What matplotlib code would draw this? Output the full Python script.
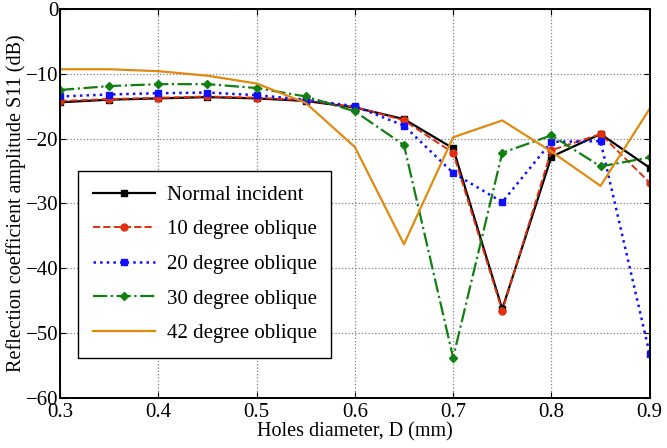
import matplotlib
matplotlib.use("Agg")
import matplotlib.pyplot as plt

# --- data ---
diameter = [0.3, 0.35, 0.4, 0.45, 0.5, 0.55, 0.6, 0.65, 0.7, 0.75, 0.8, 0.85, 0.9]
normal = [-14.4, -14.0, -13.8, -13.6, -13.8, -14.2, -15.2, -17.0, -21.5, -46.3, -22.8, -19.3, -24.5]
deg10 = [-14.2, -13.9, -13.7, -13.5, -13.7, -14.1, -15.1, -17.2, -22.2, -46.6, -21.8, -19.3, -26.8]
deg20 = [-13.5, -13.2, -13.0, -12.9, -13.3, -14.0, -15.0, -18.0, -25.3, -29.8, -20.5, -20.4, -53.2]
deg30 = [-12.5, -11.9, -11.6, -11.6, -12.2, -13.5, -15.8, -21.0, -53.8, -22.2, -19.5, -24.3, -22.9]
deg42 = [-9.3, -9.3, -9.6, -10.3, -11.5, -14.5, -21.3, -36.3, -19.8, -17.2, -22.0, -27.3, -15.4]

plt.rcParams['font.family'] = ['Liberation Serif', 'DejaVu Serif']

fig = plt.figure(figsize=(6.67, 4.48), dpi=100)
ax = fig.add_axes([0.09, 0.112, 0.884, 0.868])

ax.plot(diameter, normal, 'k-', marker='s', ms=5, lw=1.6, label='Normal incident')
ax.plot(diameter, deg10, '--', color='#e03010', marker='o', ms=5, lw=1.4, label='10 degree oblique')
ax.plot(diameter, deg20, ':', color='#1010ff', marker='s', ms=5, mfc='#1010ff', lw=1.8,
        label='20 degree oblique')
ax.plot(diameter, deg30, '-.', color='#108010', marker='D', ms=4, lw=1.6, label='30 degree oblique')
ax.plot(diameter, deg42, '-', color='#e08a10', lw=1.6, label='42 degree oblique')

ax.set_xlim(0.3, 0.9)
ax.set_ylim(-60, 0)
ax.set_xticks([0.3, 0.4, 0.5, 0.6, 0.7, 0.8, 0.9])
ax.set_xticklabels(['0.3', '0.4', '0.5', '0.6', '0.7', '0.8', '0.9'])
ax.set_yticks([-60, -50, -40, -30, -20, -10, 0])
ax.tick_params(direction='in', labelsize=15, top=True, right=True, length=4)
ax.tick_params(axis='x', pad=4)
ax.tick_params(axis='y', pad=1)
ax.grid(True, color='gray', linestyle=':', lw=0.9)
for s in ax.spines.values():
    s.set_linewidth(1.4)

ax.set_xlabel('Holes diameter, D (mm)', fontsize=14.5, labelpad=0)
ax.set_ylabel('Reflection coefficient amplitude S11 (dB)', fontsize=14.5, labelpad=0)

leg = ax.legend(loc='lower left', bbox_to_anchor=(0.031, 0.103), borderaxespad=0,
                fontsize=15, fancybox=False, edgecolor='black', framealpha=1,
                handlelength=3.0, labelspacing=0.72, borderpad=0.7, handletextpad=0.55)
leg.get_frame().set_linewidth(1.0)

fig.savefig('out.png', dpi=100)
